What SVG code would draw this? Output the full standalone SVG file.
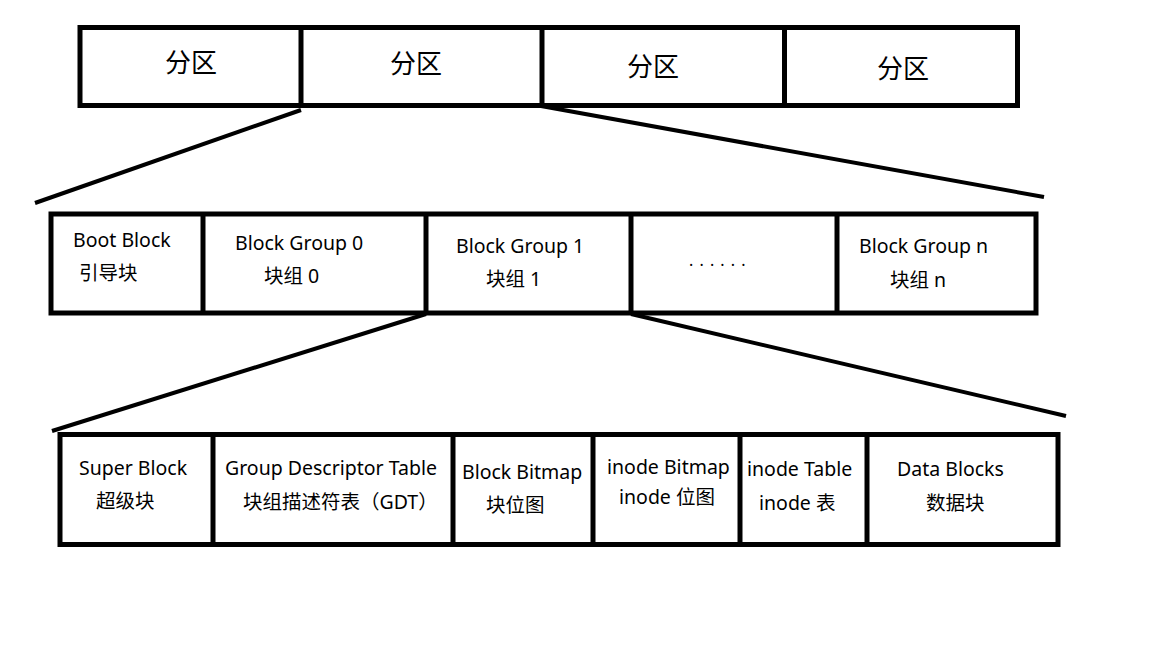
<svg xmlns="http://www.w3.org/2000/svg" width="1152" height="648" viewBox="0 0 1152 648">
<style>
.box{fill:#fff;stroke:#000;stroke-width:5}
.div{stroke:#000;stroke-width:5}
.con{stroke:#000;stroke-width:4;fill:none}
text{font-family:"Noto Sans","Noto Sans CJK SC",sans-serif;fill:#000}
.big{font-size:26px;text-anchor:middle}
.t{font-size:19.5px}
</style>
<rect width="1152" height="648" fill="#fff"/>
<g id="connectors">
<line class="con" x1="301" y1="110" x2="35" y2="203"/>
<line class="con" x1="541" y1="106" x2="1044" y2="197"/>
<line class="con" x1="426" y1="314" x2="52" y2="431"/>
<line class="con" x1="631" y1="314" x2="1066" y2="416"/>
</g>
<g id="partitions">
<rect class="box" x="80" y="27.5" width="937.5" height="78"/>
<line class="div" x1="301" y1="27.5" x2="301" y2="105.5"/>
<line class="div" x1="542" y1="27.5" x2="542" y2="105.5"/>
<line class="div" x1="784.5" y1="27.5" x2="784.5" y2="105.5"/>
<g id="p1"><text class="big" x="191" y="72">分区</text></g>
<g id="p2"><text class="big" x="416" y="73">分区</text></g>
<g id="p3"><text class="big" x="653" y="76">分区</text></g>
<g id="p4"><text class="big" x="903" y="78">分区</text></g>
</g>
<g id="groups">
<rect class="box" x="51" y="214" width="985" height="99"/>
<line class="div" x1="203" y1="214" x2="203" y2="313"/>
<line class="div" x1="426" y1="214" x2="426" y2="313"/>
<line class="div" x1="631" y1="214" x2="631" y2="313"/>
<line class="div" x1="837" y1="214" x2="837" y2="313"/>
<g id="boot"><text class="t" x="73" y="247">Boot Block</text><text class="t" x="79" y="280">引导块</text></g>
<g id="bg0"><text class="t" x="235" y="250">Block Group 0</text><text class="t" x="264" y="283">块组 0</text></g>
<g id="bg1"><text class="t" x="456" y="253">Block Group 1</text><text class="t" x="486" y="286">块组 1</text></g>
<g id="dots"><text x="689" y="266" style="font-size:16px" letter-spacing="1">. . . . . .</text></g>
<g id="bgn"><text class="t" x="859" y="253">Block Group n</text><text class="t" x="890" y="287">块组 n</text></g>
</g>
<g id="blocks">
<rect class="box" x="60" y="434.5" width="998" height="110"/>
<line class="div" x1="213" y1="434.5" x2="213" y2="544.5"/>
<line class="div" x1="453" y1="434.5" x2="453" y2="544.5"/>
<line class="div" x1="593" y1="434.5" x2="593" y2="544.5"/>
<line class="div" x1="740" y1="434.5" x2="740" y2="544.5"/>
<line class="div" x1="867" y1="434.5" x2="867" y2="544.5"/>
<g id="super"><text class="t" x="79" y="475">Super Block</text><text class="t" x="96" y="508">超级块</text></g>
<g id="gdt"><text class="t" x="225" y="475">Group Descriptor Table</text><text class="t" x="243" y="509">块组描述符表（GDT）</text></g>
<g id="bbitmap"><text class="t" x="462" y="479">Block Bitmap</text><text class="t" x="486" y="512">块位图</text></g>
<g id="ibitmap"><text class="t" x="607" y="474">inode Bitmap</text><text class="t" x="619" y="504">inode 位图</text></g>
<g id="itable"><text class="t" x="747" y="476">inode Table</text><text class="t" x="759" y="510">inode 表</text></g>
<g id="data"><text class="t" x="897" y="476">Data Blocks</text><text class="t" x="926" y="510">数据块</text></g>
</g>
</svg>
